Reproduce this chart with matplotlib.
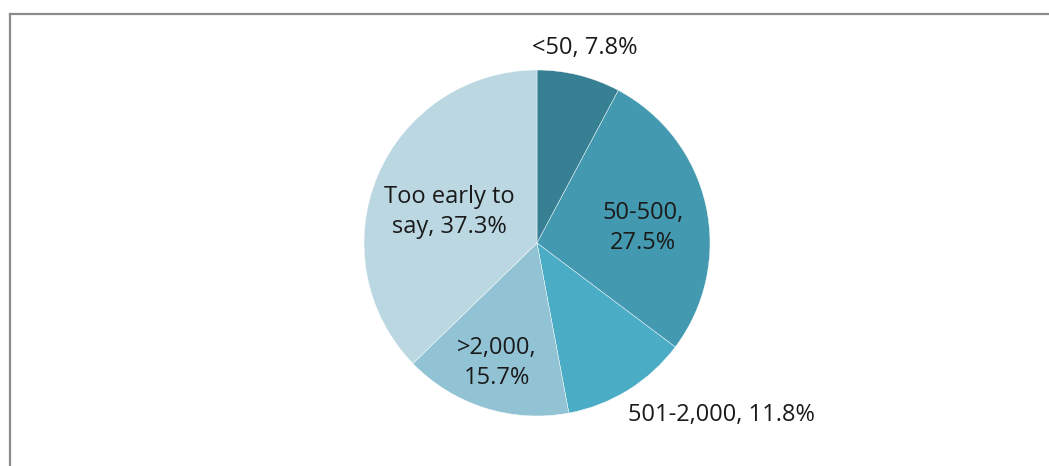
import numpy as np
import matplotlib.pyplot as plt
from matplotlib.lines import Line2D

# data
categories = ['<50', '50-500', '501-2,000', '>2,000', 'Too early to say']
shares = [7.8, 27.5, 11.8, 15.7, 37.3]
labels = ['<50, 7.8%', '50-500,\n27.5%', '501-2,000, 11.8%', '>2,000,\n15.7%', 'Too early to\nsay, 37.3%']
colors = ['#377F93', '#4399B0', '#4AACC5', '#92C3D4', '#BAD7E2']

# label positions (pie radius units)
label_pos = [(0.277, 1.127), (0.613, 0.087), (1.069, -0.994), (-0.231, -0.694), (-0.509, 0.179)]

W, H = 1049, 466
fig = plt.figure(figsize=(W / 100, H / 100), dpi=100)

# frame of the chart area (cut off at right and bottom)
fig.add_artist(Line2D([9.5 / W, 9.5 / W], [0, 1 - 13.5 / H], color='#8c8c8c', lw=1.6))
fig.add_artist(Line2D([9.5 / W, 1], [1 - 13.5 / H, 1 - 13.5 / H], color='#8c8c8c', lw=1.6))

cx, cy, r = 537, 243, 173
ax = fig.add_axes([(cx - r) / W, (H - cy - r) / H, 2 * r / W, 2 * r / H])
ax.pie(shares, colors=colors, startangle=90, counterclock=False, radius=1,
       wedgeprops=dict(edgecolor='white', linewidth=0.3))
ax.set_xlim(-1, 1)
ax.set_ylim(-1, 1)
ax.set_aspect('auto')
ax.axis('off')

for lab, (x, y) in zip(labels, label_pos):
    ax.text(x, y, lab, ha='center', va='center', fontsize=17, color='#1a1a1a',
            family='Open Sans', linespacing=1.3)

plt.savefig('out.png', dpi=100)
